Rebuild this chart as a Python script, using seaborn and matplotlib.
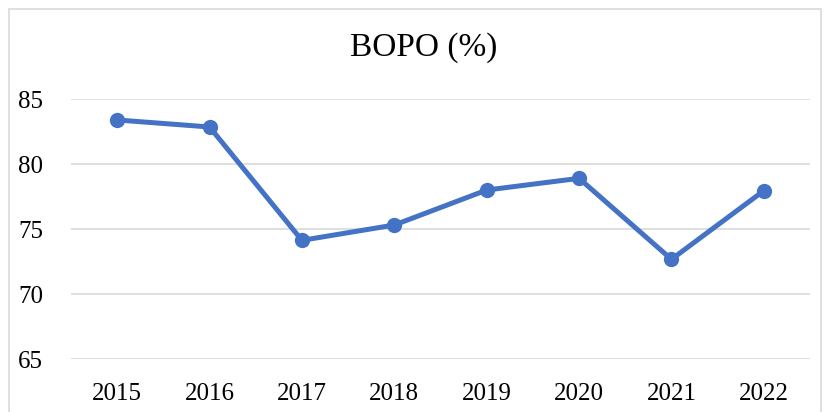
import pandas as pd
import matplotlib.pyplot as plt
import seaborn as sns
from matplotlib.patches import Rectangle

years = ["2015", "2016", "2017", "2018", "2019", "2020", "2021", "2022"]
bopo = [83.41, 82.87, 74.15, 75.33, 78.02, 78.92, 72.69, 77.97]

data = pd.DataFrame({"Tahun": years, "BOPO": bopo})

sns.set_style("white")
plt.rcParams['font.family'] = ['Liberation Serif', 'DejaVu Serif']

fig = plt.figure(figsize=(8.25, 4.12), dpi=100)
ax = fig.add_axes([71/825, 1 - 359.3/412, (810 - 71)/825, (359.3 - 99.3)/412])

sns.lineplot(x="Tahun", y="BOPO", data=data, ax=ax, color="#4472C4",
             linewidth=3.6, marker="o", markersize=11, markeredgewidth=0)

ax.set_xlim(-0.5, len(years) - 0.5)
ax.set_ylim(65, 85)
ax.set_yticks([65, 70, 75, 80, 85])
ax.grid(axis="y", color="#d9d9d9", linewidth=1.2)
ax.set_axisbelow(True)
for s in ax.spines.values():
    s.set_visible(False)
ax.tick_params(axis="both", length=0, labelsize=18, colors="black")
ax.tick_params(axis="y", pad=20)
ax.tick_params(axis="x", pad=17)
ax.set_xlabel("")
ax.set_ylabel("")

fig.text(424/825, 1 - 48/412, "BOPO (%)", ha="center", va="center",
         fontsize=24, color="black")

# chart border
fig.patches.append(Rectangle((9/825, -0.05), (821 - 9)/825, 1.05 - 9/412,
                             transform=fig.transFigure, fill=False,
                             edgecolor="#d9d9d9", linewidth=1.2))

fig.savefig("out.png", dpi=100)
